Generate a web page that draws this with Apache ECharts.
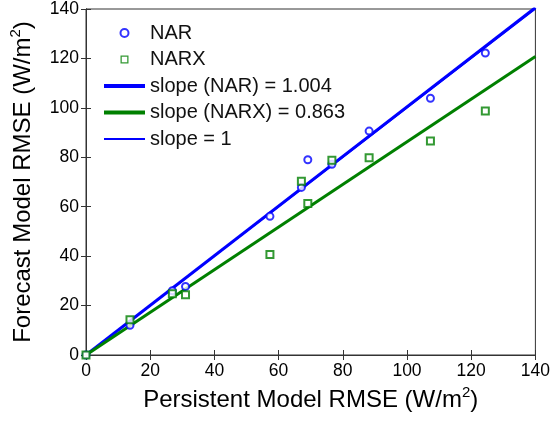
<!DOCTYPE html>
<html>
<head>
<meta charset="utf-8">
<script src="https://cdn.jsdelivr.net/npm/echarts@6/dist/echarts.min.js"></script>
<style>
  html, body { margin: 0; padding: 0; background: #fff; }
  #chart { width: 553px; height: 423px; }
</style>
</head>
<body>
<div id="chart"></div>
<script>
// persistent model RMSE (x) against forecast model RMSE (y)
const persistRmse = [0, 13.7, 26.9, 31.0, 57.3, 67.1, 69.1, 76.6, 88.2, 107.3, 124.4];
const narRmse     = [0, 12.0, 26.0, 27.7, 56.1, 67.8, 79.0, 77.2, 90.6, 103.9, 122.2];
const narxRmse    = [0, 14.3, 24.8, 24.4, 40.7, 70.3, 61.3, 78.8, 79.8, 86.6, 98.7];
const slopeNar = 1.004;
const slopeNarx = 0.863;
const slopeOne = 1;
const axisMax = 140;

const font = "Liberation Sans, Arial, Helvetica, sans-serif";

function pairs(xs, ys) {
  return xs.map((x, i) => [x, ys[i]]);
}
// straight line through origin with given slope, across the x range
function slopeLine(k) {
  return [[0, 0], [axisMax, axisMax * k]];
}

const titleRich = {
  a: { fontFamily: font, fontSize: 24, color: "#000", lineHeight: 30 },
  sup: { fontFamily: font, fontSize: 15, color: "#000", verticalAlign: "top", lineHeight: 30, padding: [0, 0, 12, 0] }
};

// hide the little dot echarts puts in the middle of a line legend icon
const noDot = { color: "rgba(0,0,0,0)", borderWidth: 0, opacity: 0 };
// hollow square as a path so it keeps its aspect in the legend
const hollowSquare = "path://M0,0H10V10H0Z M1.6,1.6V8.4H8.4V1.6Z";

const myChart = echarts.init(document.getElementById("chart"));

const option = {
  backgroundColor: "#fff",
  animation: false,
  textStyle: { fontFamily: font },
  grid: {
    left: 84, right: 16, top: 7, bottom: 68,
    show: true, borderColor: "#333", borderWidth: 1
  },
  legend: {
    orient: "vertical",
    left: 97,
    top: 18,
    itemWidth: 41,
    itemHeight: 8,
    itemGap: 6.5,
    symbolKeepAspect: true,
    textStyle: { fontFamily: font, fontSize: 20, color: "#111" },
    data: [
      { name: "NAR" },
      { name: "NARX", icon: hollowSquare, itemStyle: { color: "#008000", borderWidth: 0 } },
      { name: "slope (NAR) = 1.004", itemStyle: noDot, lineStyle: { width: 4 } },
      { name: "slope (NARX) = 0.863", itemStyle: noDot, lineStyle: { width: 4 } },
      { name: "slope = 1", itemStyle: noDot, lineStyle: { width: 2 } }
    ]
  },
  xAxis: [
    {
      type: "value", min: 0, max: axisMax, interval: 20,
      name: "{a|Persistent Model RMSE (W/m}{sup|2}{a|)}",
      nameLocation: "middle", nameGap: 30,
      nameTextStyle: { rich: titleRich },
      axisLine: { show: true, lineStyle: { color: "#333" } },
      axisTick: { show: true, inside: true, length: 5, lineStyle: { color: "#333" } },
      axisLabel: { fontFamily: font, fontSize: 17.5, color: "#000", margin: 7 },
      splitLine: { show: false }
    },
    {
      type: "value", min: 0, max: axisMax, interval: 20, position: "top",
      axisLine: { show: true, lineStyle: { color: "#333" } },
      axisTick: { show: true, inside: true, length: 5, lineStyle: { color: "#333" } },
      axisLabel: { show: false },
      splitLine: { show: false }
    }
  ],
  yAxis: [
    {
      type: "value", min: 0, max: axisMax, interval: 20,
      name: "{a|Forecast Model RMSE (W/m}{sup|2}{a|)}",
      nameLocation: "middle", nameGap: 48,
      nameTextStyle: { rich: titleRich },
      axisLine: { show: true, lineStyle: { color: "#333" } },
      axisTick: { show: true, inside: true, length: 5, lineStyle: { color: "#333" } },
      axisLabel: { fontFamily: font, fontSize: 17.5, color: "#000", margin: 7 },
      splitLine: { show: false }
    },
    {
      type: "value", min: 0, max: axisMax, interval: 20, position: "right",
      axisLine: { show: true, lineStyle: { color: "#333" } },
      axisTick: { show: true, inside: true, length: 5, lineStyle: { color: "#333" } },
      axisLabel: { show: false },
      splitLine: { show: false }
    }
  ],
  series: [
    {
      name: "NAR", type: "scatter", z: 5,
      symbol: "emptyCircle", symbolSize: 7,
      itemStyle: { color: "#0000ff", borderWidth: 1.2 },
      data: pairs(persistRmse, narRmse)
    },
    {
      name: "NARX", type: "scatter", z: 5,
      symbol: "emptyRect", symbolSize: 7,
      itemStyle: { color: "#008000", borderWidth: 1.2 },
      data: pairs(persistRmse, narxRmse)
    },
    {
      name: "slope (NAR) = 1.004", type: "line", z: 3,
      symbol: "none", silent: true,
      lineStyle: { color: "#0000ff", width: 3 },
      itemStyle: { color: "#0000ff" },
      data: slopeLine(slopeNar)
    },
    {
      name: "slope (NARX) = 0.863", type: "line", z: 3,
      symbol: "none", silent: true,
      lineStyle: { color: "#008000", width: 3 },
      itemStyle: { color: "#008000" },
      data: slopeLine(slopeNarx)
    },
    {
      name: "slope = 1", type: "line", z: 2,
      symbol: "none", silent: true,
      lineStyle: { color: "#0000ff", width: 1.5 },
      itemStyle: { color: "#0000ff" },
      data: slopeLine(slopeOne)
    }
  ]
};

myChart.setOption(option);
</script>
</body>
</html>
